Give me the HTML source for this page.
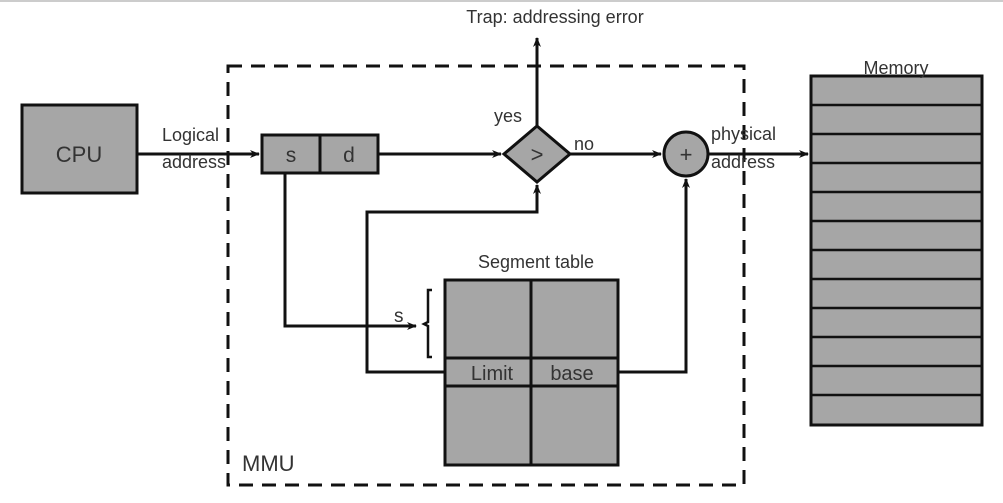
<!DOCTYPE html>
<html><head><style>body{margin:0;background:#fff}svg{display:block}</style></head><body>
<svg width="1003" height="503" xmlns="http://www.w3.org/2000/svg" font-family="Liberation Sans, sans-serif">
<defs><marker id="a" markerWidth="10" markerHeight="8" refX="9" refY="4" orient="auto" markerUnits="userSpaceOnUse"><path d="M0,0 L10,4 L0,8 L3,4z" fill="#111"/></marker></defs>
<rect width="1003" height="503" fill="#fff"/>
<line x1="0" y1="1" x2="1003" y2="1" stroke="#ccc" stroke-width="2"/>
<rect x="228" y="66" width="516" height="419" fill="none" stroke="#111" stroke-width="3" stroke-dasharray="14,9"/>
<g stroke="#111" stroke-width="3" fill="#a6a6a6">
<rect x="22" y="105" width="115" height="88"/>
<rect x="262" y="135" width="116" height="38"/>
<line x1="320" y1="135" x2="320" y2="173"/>
<polygon points="537,126 570,154 537,182 504,154"/>
<circle cx="686" cy="154" r="22"/>
<rect x="811" y="76" width="171" height="349"/>
<rect x="445" y="280" width="173" height="185"/>
<line x1="531" y1="280" x2="531" y2="465"/>
<line x1="445" y1="358" x2="618" y2="358"/>
<line x1="445" y1="386" x2="618" y2="386"/>
</g>
<g stroke="#111" stroke-width="2.5">
<line x1="811" y1="105" x2="982" y2="105"/><line x1="811" y1="134" x2="982" y2="134"/>
<line x1="811" y1="163" x2="982" y2="163"/><line x1="811" y1="192" x2="982" y2="192"/>
<line x1="811" y1="221" x2="982" y2="221"/><line x1="811" y1="250" x2="982" y2="250"/>
<line x1="811" y1="279" x2="982" y2="279"/><line x1="811" y1="308" x2="982" y2="308"/>
<line x1="811" y1="337" x2="982" y2="337"/><line x1="811" y1="366" x2="982" y2="366"/>
<line x1="811" y1="395" x2="982" y2="395"/>
</g>
<g stroke="#111" stroke-width="3" fill="none" marker-end="url(#a)">
<line x1="137" y1="154" x2="259" y2="154"/>
<line x1="378" y1="154" x2="501" y2="154"/>
<line x1="537" y1="126" x2="537" y2="38"/>
<line x1="570" y1="154" x2="661" y2="154"/>
<line x1="708" y1="154" x2="808" y2="154"/>
<polyline points="285,173 285,326 416,326"/>
<polyline points="445,372 367,372 367,212 537,212 537,185"/>
<polyline points="618,372 686,372 686,179"/>
</g>
<path d="M432,290 L428,290 L428,322 L424,324 L428,326 L428,357 L432,357" stroke="#111" stroke-width="2.5" fill="none"/>
<g fill="#333">
<text x="79" y="162" font-size="22" text-anchor="middle">CPU</text>
<text x="291" y="162" font-size="21" text-anchor="middle">s</text>
<text x="349" y="162" font-size="21" text-anchor="middle">d</text>
<text x="537" y="162" font-size="22" text-anchor="middle">&gt;</text>
<text x="686" y="162" font-size="22" text-anchor="middle">+</text>
<text x="162" y="141" font-size="18">Logical</text>
<text x="162" y="168" font-size="18">address</text>
<text x="555" y="23" font-size="18" text-anchor="middle">Trap: addressing error</text>
<text x="494" y="122" font-size="18">yes</text>
<text x="574" y="150" font-size="18">no</text>
<text x="711" y="140" font-size="18">physical</text>
<text x="711" y="168" font-size="18">address</text>
<text x="896" y="74" font-size="18" text-anchor="middle">Memory</text>
<text x="536" y="268" font-size="18" text-anchor="middle">Segment table</text>
<text x="394" y="322" font-size="19">s</text>
<text x="492" y="380" font-size="20" text-anchor="middle">Limit</text>
<text x="572" y="380" font-size="20" text-anchor="middle">base</text>
<text x="242" y="471" font-size="22">MMU</text>
</g>
</svg>
</body></html>
